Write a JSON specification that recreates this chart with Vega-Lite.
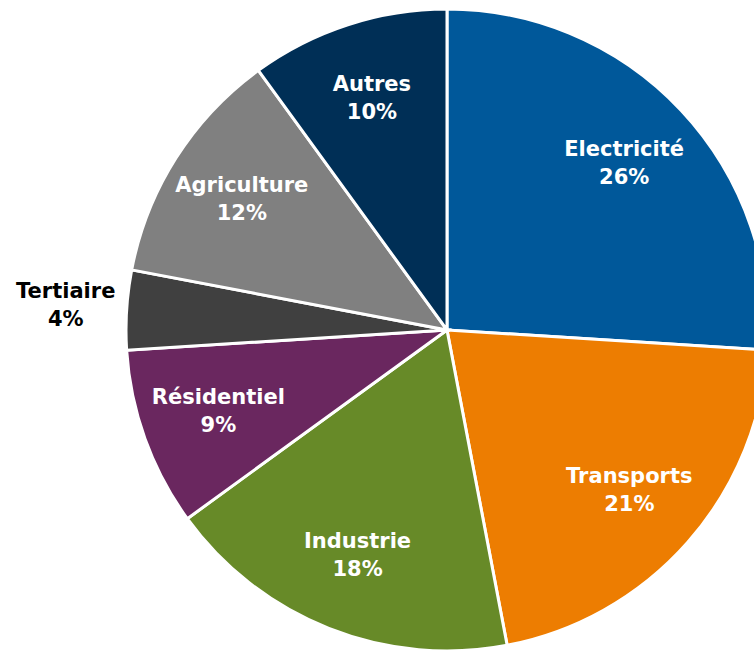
{
  "$schema": "https://vega.github.io/schema/vega-lite/v6.json",
  "width": 884,
  "height": 650,
  "padding": 5,
  "autosize": {"type": "none"},
  "background": "white",
  "view": {"stroke": null},
  "data": {
    "values": [
      {"rank": 1, "name": "Electricité", "share": 0.26},
      {"rank": 2, "name": "Transports", "share": 0.21},
      {"rank": 3, "name": "Industrie", "share": 0.18},
      {"rank": 4, "name": "Résidentiel", "share": 0.09},
      {"rank": 5, "name": "Tertiaire", "share": 0.04},
      {"rank": 6, "name": "Agriculture", "share": 0.12},
      {"rank": 7, "name": "Autres", "share": 0.10}
    ]
  },
  "encoding": {
    "theta": {"field": "share", "type": "quantitative", "stack": true},
    "order": {"field": "rank", "type": "quantitative"}
  },
  "layer": [
    {
      "mark": {"type": "arc", "outerRadius": 321, "stroke": "white", "strokeWidth": 3},
      "encoding": {
        "color": {
          "field": "name",
          "type": "nominal",
          "legend": null,
          "scale": {
            "domain": ["Electricité", "Transports", "Industrie", "Résidentiel", "Tertiaire", "Agriculture", "Autres"],
            "range": ["#00589a", "#ed7d01", "#678a28", "#6a275f", "#404040", "#808080", "#002f56"]
          }
        }
      }
    },
    {
      "mark": {"type": "text", "radius": 243, "dy": -14, "font": "DejaVu Sans", "fontWeight": "bold", "fontSize": 21, "fill": "white"},
      "encoding": {
        "text": {"field": "name", "type": "nominal"},
        "opacity": {"condition": {"test": "datum.name === 'Tertiaire'", "value": 0}, "value": 1}
      }
    },
    {
      "mark": {"type": "text", "radius": 243, "dy": 14, "font": "DejaVu Sans", "fontWeight": "bold", "fontSize": 21, "fill": "white"},
      "encoding": {
        "text": {"field": "share", "type": "quantitative", "format": ".0%"},
        "opacity": {"condition": {"test": "datum.name === 'Tertiaire'", "value": 0}, "value": 1}
      }
    },
    {
      "mark": {"type": "text", "radius": 382, "dy": -14, "font": "DejaVu Sans", "fontWeight": "bold", "fontSize": 21, "fill": "black"},
      "encoding": {
        "text": {"field": "name", "type": "nominal"},
        "opacity": {"condition": {"test": "datum.name === 'Tertiaire'", "value": 1}, "value": 0}
      }
    },
    {
      "mark": {"type": "text", "radius": 382, "dy": 14, "font": "DejaVu Sans", "fontWeight": "bold", "fontSize": 21, "fill": "black"},
      "encoding": {
        "text": {"field": "share", "type": "quantitative", "format": ".0%"},
        "opacity": {"condition": {"test": "datum.name === 'Tertiaire'", "value": 1}, "value": 0}
      }
    }
  ]
}
